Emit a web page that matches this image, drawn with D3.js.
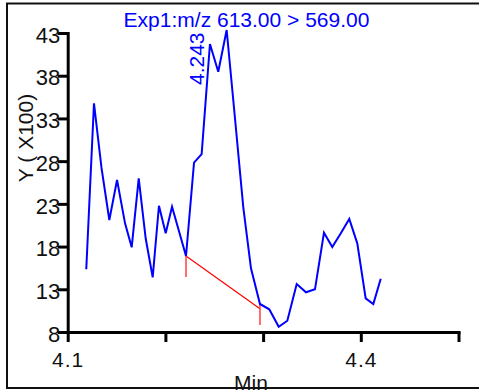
<!DOCTYPE html>
<html>
<head>
<meta charset="utf-8">
<script src="https://cdn.jsdelivr.net/npm/d3@7"></script>
<style>
  html, body { margin: 0; padding: 0; background: #fff; }
  svg { display: block; }
</style>
</head>
<body>
<svg id="chart" width="479" height="390"></svg>
<script>
// ---- data ----
const title = "Exp1:m/z 613.00 > 569.00";
const xLabel = "Min";
const yLabel = "Y ( X100)";
const peakLabel = "4.243";
const peakTime = 4.243;

const times = [4.1190, 4.1269, 4.1346, 4.1426, 4.1505, 4.1587, 4.1655, 4.1727, 4.1798, 4.1870,
  4.1934, 4.2003, 4.2068, 4.2211, 4.2293, 4.2371, 4.2456, 4.2541, 4.2627, 4.2712,
  4.2797, 4.2876, 4.2968, 4.3063, 4.3160, 4.3248, 4.3344, 4.3439, 4.3531, 4.3623,
  4.3708, 4.3797, 4.3882, 4.3964, 4.4050, 4.4128, 4.4204];
const intensities = [15.34, 34.77, 27.2, 21.11, 25.79, 20.72, 17.91, 25.99, 18.97, 14.40,
  22.78, 19.55, 22.67, 16.90, 27.82, 28.83, 41.71, 38.47, 43.35, 33.05,
  22.63, 15.46, 11.28, 10.66, 8.62, 9.32, 13.62, 12.65, 13.0, 19.62,
  17.95, 19.59, 21.23, 18.38, 11.94, 11.28, 14.24];

// integration baseline: start/end points and the marker drop lengths
const baselineTimes = [4.2211, 4.2968];
const baselineValues = [16.90, 10.73];
const markerTop = [16.90, 11.39];
const markerBottom = [14.44, 8.82];

const xTicks = [4.1, 4.2, 4.3, 4.4, 4.5];
const xTickLabels = ["4.1", "", "", "4.4", ""];
const yTicks = [8, 13, 18, 23, 28, 33, 38, 43];

// ---- layout ----
const svg = d3.select("#chart");
const x = d3.scaleLinear().domain([4.1, 4.5]).range([67.7, 458.5]);
const y = d3.scaleLinear().domain([8, 43]).range([332, 33]);

// outer frame (top, left, bottom)
svg.append("path")
  .attr("d", "M479,3.5H7V388H479")
  .attr("fill", "none").attr("stroke", "#111").attr("stroke-width", 2);

// axes
const xAxis = d3.axisBottom(x).tickValues(xTicks)
  .tickFormat((d, i) => xTickLabels[i]).tickSize(10).tickSizeOuter(0).tickPadding(10);
const gx = svg.append("g").attr("transform", `translate(0,${y(8)})`).call(xAxis);

const yAxis = d3.axisLeft(y).tickValues(yTicks).tickSize(10).tickSizeOuter(0).tickPadding(-2.5);
const gy = svg.append("g").attr("transform", `translate(${x(4.1)},0)`).call(yAxis);

[gx, gy].forEach(g => {
  g.select(".domain").attr("stroke", "#000").attr("stroke-width", 3).attr("stroke-linecap", "square");
  g.selectAll(".tick line").attr("stroke", "#000").attr("stroke-width", 3);
  g.selectAll("text").attr("fill", "#111").attr("font-family", "Liberation Sans, Arial, sans-serif");
});
gx.selectAll("text").attr("font-size", 21).attr("letter-spacing", "1px");
gy.selectAll("text").attr("font-size", 22).attr("dy", "0.42em");

// axis titles
svg.append("text")
  .attr("x", 251).attr("y", 390)
  .attr("text-anchor", "middle")
  .attr("font-family", "Liberation Sans, Arial, sans-serif")
  .attr("font-size", 21).attr("fill", "#111")
  .text(xLabel);

svg.append("text")
  .attr("transform", "translate(33,138) rotate(-90)")
  .attr("text-anchor", "middle")
  .attr("font-family", "Liberation Sans, Arial, sans-serif")
  .attr("font-size", 21).attr("fill", "#111")
  .text(yLabel);

// title
svg.append("text")
  .attr("x", 246.5).attr("y", 27)
  .attr("text-anchor", "middle")
  .attr("font-family", "Liberation Sans, Arial, sans-serif")
  .attr("font-size", 21).attr("fill", "#0000ff")
  .text(title);

// baseline (red)
const pts = times.map((t, i) => [t, intensities[i]]);
svg.append("line")
  .attr("x1", x(baselineTimes[0])).attr("y1", y(baselineValues[0]))
  .attr("x2", x(baselineTimes[1])).attr("y2", y(baselineValues[1]))
  .attr("stroke", "#ff0000").attr("stroke-width", 1.2);
baselineTimes.forEach((t, i) => {
  svg.append("line")
    .attr("x1", x(t)).attr("x2", x(t))
    .attr("y1", y(markerTop[i])).attr("y2", y(markerBottom[i]))
    .attr("stroke", "#ff4040").attr("stroke-width", 1.5);
});

// chromatogram trace
const line = d3.line().x(d => x(d[0])).y(d => y(d[1]));
svg.append("path")
  .datum(pts)
  .attr("d", line)
  .attr("fill", "none")
  .attr("stroke", "#0000ff")
  .attr("stroke-width", 2)
  .attr("stroke-linejoin", "miter");

// peak label
svg.append("text")
  .attr("transform", `translate(${x(peakTime) - 3.5},85) rotate(-90)`)
  .attr("text-anchor", "start")
  .attr("font-family", "Liberation Sans, Arial, sans-serif")
  .attr("font-size", 21).attr("fill", "#0000ff")
  .text(peakLabel);
</script>
</body>
</html>
